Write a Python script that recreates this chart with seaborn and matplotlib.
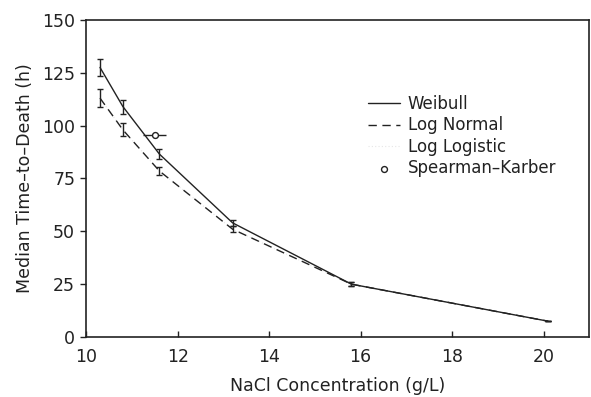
import numpy as np
import pandas as pd
import matplotlib
matplotlib.use("Agg")
import matplotlib.pyplot as plt
import seaborn as sns

# values
conc = [10.3, 10.8, 11.6, 13.2, 15.8, 20.1]
weibull = [127.5, 109, 86.5, 54, 25, 7.5]
weibull_err = [4, 3.3, 2.3, 1.5, 0.8, 0]
lognormal = [113, 98, 78.5, 51, 25, 7.5]
lognormal_err = [4.3, 3, 2, 1.5, 0.8, 0]
loglogistic = [113, 98, 78.5, 51, 25, 7.5]
sk_conc = [11.5]
sk_time = [95.5]
sk_xerr = [0.25]

sns.set_style("ticks")
plt.rcParams['font.family'] = ['DejaVu Sans']
ink = "#222222"

df = pd.DataFrame({
    "conc": conc * 3,
    "time": weibull + lognormal + loglogistic,
    "model": ["Weibull"] * 6 + ["Log Normal"] * 6 + ["Log Logistic"] * 6,
})

fig = plt.figure(figsize=(5.91, 3.97), dpi=100)
ax = fig.add_axes([0.146, 0.151, 0.851, 0.799])

sns.lineplot(data=df[df.model == "Log Logistic"], x="conc", y="time", ax=ax,
             color="#e6e6e6", lw=0.8, linestyle=(0, (1, 2)), label="Log Logistic")
sns.lineplot(data=df[df.model == "Weibull"], x="conc", y="time", ax=ax,
             color=ink, lw=1.0, label="Weibull")
sns.lineplot(data=df[df.model == "Log Normal"], x="conc", y="time", ax=ax,
             color=ink, lw=1.0, linestyle=(0, (6, 4)), label="Log Normal")

ax.errorbar(conc, weibull, yerr=weibull_err, fmt="none", ecolor=ink,
            elinewidth=1.0, capsize=2.5, capthick=1.0)
ax.errorbar(conc, lognormal, yerr=lognormal_err, fmt="none", ecolor=ink,
            elinewidth=1.0, capsize=2.5, capthick=1.0)
ax.errorbar(sk_conc, sk_time, xerr=sk_xerr, fmt="none", ecolor=ink,
            elinewidth=1.0, capsize=0)
sns.scatterplot(x=sk_conc, y=sk_time, ax=ax, marker="o", s=18,
                facecolor="white", edgecolor=ink, linewidth=1.0,
                label="Spearman\u2013Karber", zorder=5)

ax.set_xlim(10, 21)
ax.set_ylim(0, 150)
ax.set_xticks([10, 12, 14, 16, 18, 20])
ax.set_yticks([0, 25, 50, 75, 100, 125, 150])
ax.tick_params(axis="x", direction="in", length=4, width=1, colors=ink,
               labelsize=12.5, pad=8)
ax.tick_params(axis="y", direction="out", length=4, width=1, colors=ink,
               labelsize=12.5, pad=4)
for s in ax.spines.values():
    s.set_linewidth(1.2)
    s.set_color(ink)
    s.set_visible(True)

ax.set_xlabel("NaCl Concentration (g/L)", fontsize=12.5, color=ink, labelpad=8)
ax.set_ylabel("Median Time\u2013to\u2013Death (h)", fontsize=12.5, color=ink, labelpad=6)

h, l = ax.get_legend_handles_labels()
order = [l.index(k) for k in ["Weibull", "Log Normal", "Log Logistic", "Spearman\u2013Karber"]]
ax.legend([h[i] for i in order], [l[i] for i in order], loc="upper left",
          bbox_to_anchor=(0.53, 0.81), frameon=False, fontsize=12,
          handlelength=1.9, handletextpad=0.5, labelspacing=0.2,
          labelcolor=ink)

fig.savefig("out.png", dpi=100)
